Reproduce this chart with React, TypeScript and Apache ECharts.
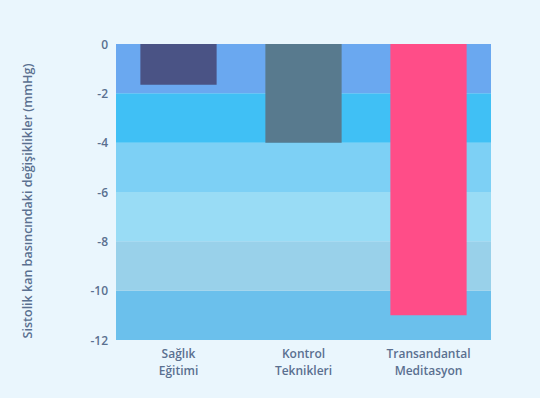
import React, { useEffect, useRef } from "react";
import * as echarts from "echarts";

const categories = ["Sağlık\nEğitimi", "Kontrol\nTeknikleri", "Transandantal\nMeditasyon"];
const values = [-1.65, -4.0, -11.0];
const barColors = ["#4a5385", "#587a8e", "#ff4d88"];
const bandColors = ["#6bc0ec", "#99d1ea", "#99dcf5", "#7dd0f5", "#40c0f5", "#6aa8f0"];

export default function App() {
  const ref = useRef<HTMLDivElement>(null);
  useEffect(() => {
    const chart = echarts.init(ref.current!, null, { renderer: "svg" });
    chart.setOption({
      animation: false,
      backgroundColor: "#eaf6fd",
      textStyle: { fontFamily: "Open Sans" },
      grid: { left: 116, right: 49, top: 44, bottom: 58, show: false },
      xAxis: {
        type: "category",
        data: categories,
        axisLine: { show: false, onZero: false },
        axisTick: { show: false },
        axisLabel: { color: "#5a7090", fontSize: 12, fontWeight: 600, lineHeight: 17, margin: 5 },
      },
      yAxis: {
        type: "value",
        min: -12,
        max: 0,
        interval: 2,
        name: "Sistolik kan basıncındaki değişiklikler (mmHg)",
        nameLocation: "middle",
        nameGap: 82,
        nameTextStyle: { color: "#5a7090", fontSize: 12.5, fontWeight: 600, padding: [0, 18, 0, 0] },
        axisLine: { show: false },
        axisTick: { show: false },
        axisLabel: { color: "#5a7090", fontSize: 12, fontWeight: 600, margin: 8 },
        splitLine: { show: false },
        splitArea: { show: true, areaStyle: { color: bandColors } },
      },
      series: [
        {
          type: "bar",
          data: values.map((v, i) => ({ value: v, itemStyle: { color: barColors[i] } })),
          barWidth: "61%",
        },
      ],
    });
    return () => chart.dispose();
  }, []);
  return <div ref={ref} style={{ width: 540, height: 398, position: "absolute", left: 0, top: 0 }} />;
}
